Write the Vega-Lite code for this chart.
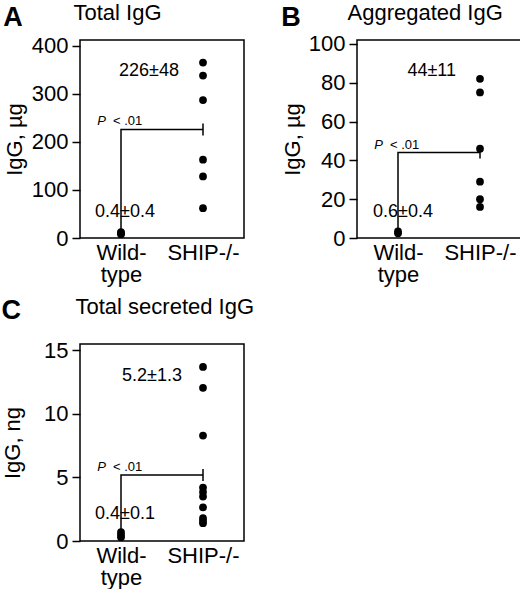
{
  "$schema": "https://vega.github.io/schema/vega-lite/v6.json",
  "padding": {"left": 0, "top": 0, "right": 0, "bottom": 0},
  "background": "white",
  "config": {
    "font": "Liberation Sans",
    "view": {"stroke": "black", "strokeWidth": 1.5},
    "axis": {
      "grid": false,
      "domain": false,
      "labelFont": "Liberation Sans",
      "titleFont": "Liberation Sans",
      "labelFontSize": 22,
      "titleFontSize": 22,
      "titleFontWeight": "normal",
      "labelColor": "black",
      "titleColor": "black",
      "tickColor": "black",
      "tickWidth": 1.5,
      "labelOverlap": false
    },
    "title": {"font": "Liberation Sans", "color": "black"},
    "text": {"font": "Liberation Sans", "color": "black"}
  },
  "datasets": {
    "dots": [
      {"panel": "A", "group": "Wild-type", "igg": 8},
      {"panel": "A", "group": "Wild-type", "igg": 10},
      {"panel": "A", "group": "Wild-type", "igg": 12},
      {"panel": "A", "group": "SHIP-/-", "igg": 365},
      {"panel": "A", "group": "SHIP-/-", "igg": 338},
      {"panel": "A", "group": "SHIP-/-", "igg": 287},
      {"panel": "A", "group": "SHIP-/-", "igg": 163},
      {"panel": "A", "group": "SHIP-/-", "igg": 128},
      {"panel": "A", "group": "SHIP-/-", "igg": 62},
      {"panel": "B", "group": "Wild-type", "igg": 2.4},
      {"panel": "B", "group": "Wild-type", "igg": 3.4},
      {"panel": "B", "group": "SHIP-/-", "igg": 82},
      {"panel": "B", "group": "SHIP-/-", "igg": 75},
      {"panel": "B", "group": "SHIP-/-", "igg": 46},
      {"panel": "B", "group": "SHIP-/-", "igg": 29},
      {"panel": "B", "group": "SHIP-/-", "igg": 20},
      {"panel": "B", "group": "SHIP-/-", "igg": 16},
      {"panel": "C", "group": "Wild-type", "igg": 0.3},
      {"panel": "C", "group": "Wild-type", "igg": 0.5},
      {"panel": "C", "group": "Wild-type", "igg": 0.7},
      {"panel": "C", "group": "SHIP-/-", "igg": 13.7},
      {"panel": "C", "group": "SHIP-/-", "igg": 12.05},
      {"panel": "C", "group": "SHIP-/-", "igg": 8.3},
      {"panel": "C", "group": "SHIP-/-", "igg": 4.2},
      {"panel": "C", "group": "SHIP-/-", "igg": 3.85},
      {"panel": "C", "group": "SHIP-/-", "igg": 3.5},
      {"panel": "C", "group": "SHIP-/-", "igg": 2.65},
      {"panel": "C", "group": "SHIP-/-", "igg": 1.8},
      {"panel": "C", "group": "SHIP-/-", "igg": 1.6},
      {"panel": "C", "group": "SHIP-/-", "igg": 1.4}
    ],
    "summary": [
      {"panel": "A", "group": "Wild-type", "mean": 0.4, "label": "0.4±0.4", "labelAt": 55},
      {"panel": "A", "group": "SHIP-/-", "mean": 226, "lo": 213.5, "hi": 238.5, "label": "226±48", "labelAt": 347},
      {"panel": "B", "group": "Wild-type", "mean": 0.6, "label": "0.6±0.4", "labelAt": 13.5},
      {"panel": "B", "group": "SHIP-/-", "mean": 44, "lo": 40.9, "hi": 47.1, "label": "44±11", "labelAt": 86},
      {"panel": "C", "group": "Wild-type", "mean": 0.4, "label": "0.4±0.1", "labelAt": 2.1},
      {"panel": "C", "group": "SHIP-/-", "mean": 5.2, "lo": 4.73, "hi": 5.67, "label": "5.2±1.3", "labelAt": 13.0}
    ],
    "bracket": [
      {"panel": "A", "step": 1, "group": "Wild-type", "igg": 0.4},
      {"panel": "A", "step": 2, "group": "Wild-type", "igg": 226},
      {"panel": "A", "step": 3, "group": "SHIP-/-", "igg": 226},
      {"panel": "B", "step": 1, "group": "Wild-type", "igg": 0.6},
      {"panel": "B", "step": 2, "group": "Wild-type", "igg": 44},
      {"panel": "B", "step": 3, "group": "SHIP-/-", "igg": 44},
      {"panel": "C", "step": 1, "group": "Wild-type", "igg": 0.4},
      {"panel": "C", "step": 2, "group": "Wild-type", "igg": 5.2},
      {"panel": "C", "step": 3, "group": "SHIP-/-", "igg": 5.2}
    ]
  },
  "vconcat": [
    {
      "hconcat": [
        {
          "width": 164,
          "height": 198,
          "title": {"text": "A", "anchor": "start", "frame": "bounds", "fontSize": 27, "fontWeight": "bold", "baseline": "alphabetic", "offset": -52},
          "resolve": {"axis": {"x": "independent"}},
          "layer": [
            {
              "data": {"name": "dots"},
              "transform": [{"filter": "datum.panel === 'A'"}],
              "mark": {"type": "circle", "size": 60, "color": "black", "opacity": 1},
              "encoding": {
                "x": {
                  "field": "group", "type": "nominal",
                  "scale": {"type": "point", "padding": 0.5, "domain": ["Wild-type", "SHIP-/-"]},
                  "axis": {"orient": "bottom", "title": null, "ticks": false, "labelAngle": 0, "labelPadding": 4, "labelLineHeight": 22, "labelExpr": "datum.value === 'Wild-type' ? ['Wild-', 'type'] : datum.value"}
                },
                "y": {
                  "field": "igg", "type": "quantitative",
                  "scale": {"domain": [0, 412], "nice": false},
                  "axis": {"title": "IgG, µg", "values": [0, 100, 200, 300, 400], "tickCount": 10, "tickSize": 8, "labelPadding": 4, "titlePadding": 5}
                }
              }
            },
            {
              "data": {"name": "bracket"},
              "transform": [{"filter": "datum.panel === 'A'"}],
              "mark": {"type": "line", "color": "black", "strokeWidth": 1.5},
              "encoding": {
                "x": {"field": "group", "type": "nominal", "scale": {"type": "point", "padding": 0.5, "domain": ["Wild-type", "SHIP-/-"]}, "axis": null},
                "y": {"field": "igg", "type": "quantitative", "scale": {"domain": [0, 412], "nice": false}},
                "order": {"field": "step"}
              }
            },
            {
              "data": {"name": "summary"},
              "transform": [{"filter": "datum.panel === 'A' && isValid(datum.lo)"}],
              "mark": {"type": "rule", "color": "black", "strokeWidth": 1.5},
              "encoding": {
                "x": {"field": "group", "type": "nominal", "scale": {"type": "point", "padding": 0.5, "domain": ["Wild-type", "SHIP-/-"]}, "axis": null},
                "y": {"field": "lo", "type": "quantitative", "scale": {"domain": [0, 412], "nice": false}},
                "y2": {"field": "hi"}
              }
            },
            {
              "data": {"name": "summary"},
              "transform": [{"filter": "datum.panel === 'A' && datum.group === 'Wild-type'"}],
              "mark": {"type": "text", "fontSize": 18, "align": "center", "baseline": "middle", "dx": 4},
              "encoding": {
                "x": {"field": "group", "type": "nominal", "scale": {"type": "point", "padding": 0.5, "domain": ["Wild-type", "SHIP-/-"]}, "axis": null},
                "y": {"field": "labelAt", "type": "quantitative", "scale": {"domain": [0, 412], "nice": false}},
                "text": {"field": "label"}
              }
            },
            {
              "data": {"name": "summary"},
              "transform": [{"filter": "datum.panel === 'A' && datum.group === 'SHIP-/-'"}],
              "mark": {"type": "text", "fontSize": 18, "align": "right", "baseline": "middle", "dx": -24},
              "encoding": {
                "x": {"field": "group", "type": "nominal", "scale": {"type": "point", "padding": 0.5, "domain": ["Wild-type", "SHIP-/-"]}, "axis": null},
                "y": {"field": "labelAt", "type": "quantitative", "scale": {"domain": [0, 412], "nice": false}},
                "text": {"field": "label"}
              }
            },
            {
              "data": {"name": "bracket"},
              "transform": [{"filter": "datum.panel === 'A' && datum.step === 2"}],
              "mark": {"type": "text", "text": "P", "fontSize": 13, "fontStyle": "italic", "align": "right", "baseline": "alphabetic", "dx": -15, "dy": -4},
              "encoding": {
                "x": {
                  "field": "group", "type": "nominal",
                  "scale": {"type": "point", "padding": 0.5, "domain": ["Wild-type", "SHIP-/-"]},
                  "axis": {"orient": "top", "title": "Total IgG", "labels": false, "ticks": false, "domain": false, "titleAnchor": "start", "titleAlign": "left", "titleX": -7, "titleBaseline": "alphabetic", "titlePadding": 21}
                },
                "y": {"field": "igg", "type": "quantitative", "scale": {"domain": [0, 412], "nice": false}}
              }
            },
            {
              "data": {"name": "bracket"},
              "transform": [{"filter": "datum.panel === 'A' && datum.step === 2"}],
              "mark": {"type": "text", "text": "< .01", "fontSize": 13, "align": "left", "baseline": "alphabetic", "dx": -8, "dy": -4},
              "encoding": {
                "x": {"field": "group", "type": "nominal", "scale": {"type": "point", "padding": 0.5, "domain": ["Wild-type", "SHIP-/-"]}, "axis": null},
                "y": {"field": "igg", "type": "quantitative", "scale": {"domain": [0, 412], "nice": false}}
              }
            }
          ]
        },
        {
          "width": 164,
          "height": 198,
          "title": {"text": "B", "anchor": "start", "frame": "bounds", "fontSize": 27, "fontWeight": "bold", "baseline": "alphabetic", "offset": -52},
          "resolve": {"axis": {"x": "independent"}},
          "layer": [
            {
              "data": {"name": "dots"},
              "transform": [{"filter": "datum.panel === 'B'"}],
              "mark": {"type": "circle", "size": 60, "color": "black", "opacity": 1},
              "encoding": {
                "x": {
                  "field": "group", "type": "nominal",
                  "scale": {"type": "point", "padding": 0.5, "domain": ["Wild-type", "SHIP-/-"]},
                  "axis": {"orient": "bottom", "title": null, "ticks": false, "labelAngle": 0, "labelPadding": 4, "labelLineHeight": 22, "labelExpr": "datum.value === 'Wild-type' ? ['Wild-', 'type'] : datum.value"}
                },
                "y": {
                  "field": "igg", "type": "quantitative",
                  "scale": {"domain": [0, 102], "nice": false},
                  "axis": {"title": "IgG, µg", "values": [0, 20, 40, 60, 80, 100], "tickCount": 10, "tickSize": 8, "labelPadding": 4, "titlePadding": 4}
                }
              }
            },
            {
              "data": {"name": "bracket"},
              "transform": [{"filter": "datum.panel === 'B'"}],
              "mark": {"type": "line", "color": "black", "strokeWidth": 1.5},
              "encoding": {
                "x": {"field": "group", "type": "nominal", "scale": {"type": "point", "padding": 0.5, "domain": ["Wild-type", "SHIP-/-"]}, "axis": null},
                "y": {"field": "igg", "type": "quantitative", "scale": {"domain": [0, 102], "nice": false}},
                "order": {"field": "step"}
              }
            },
            {
              "data": {"name": "summary"},
              "transform": [{"filter": "datum.panel === 'B' && isValid(datum.lo)"}],
              "mark": {"type": "rule", "color": "black", "strokeWidth": 1.5},
              "encoding": {
                "x": {"field": "group", "type": "nominal", "scale": {"type": "point", "padding": 0.5, "domain": ["Wild-type", "SHIP-/-"]}, "axis": null},
                "y": {"field": "lo", "type": "quantitative", "scale": {"domain": [0, 102], "nice": false}},
                "y2": {"field": "hi"}
              }
            },
            {
              "data": {"name": "summary"},
              "transform": [{"filter": "datum.panel === 'B' && datum.group === 'Wild-type'"}],
              "mark": {"type": "text", "fontSize": 18, "align": "center", "baseline": "middle", "dx": 5},
              "encoding": {
                "x": {"field": "group", "type": "nominal", "scale": {"type": "point", "padding": 0.5, "domain": ["Wild-type", "SHIP-/-"]}, "axis": null},
                "y": {"field": "labelAt", "type": "quantitative", "scale": {"domain": [0, 102], "nice": false}},
                "text": {"field": "label"}
              }
            },
            {
              "data": {"name": "summary"},
              "transform": [{"filter": "datum.panel === 'B' && datum.group === 'SHIP-/-'"}],
              "mark": {"type": "text", "fontSize": 18, "align": "right", "baseline": "middle", "dx": -24},
              "encoding": {
                "x": {"field": "group", "type": "nominal", "scale": {"type": "point", "padding": 0.5, "domain": ["Wild-type", "SHIP-/-"]}, "axis": null},
                "y": {"field": "labelAt", "type": "quantitative", "scale": {"domain": [0, 102], "nice": false}},
                "text": {"field": "label"}
              }
            },
            {
              "data": {"name": "bracket"},
              "transform": [{"filter": "datum.panel === 'B' && datum.step === 2"}],
              "mark": {"type": "text", "text": "P", "fontSize": 13, "fontStyle": "italic", "align": "right", "baseline": "alphabetic", "dx": -15, "dy": -4},
              "encoding": {
                "x": {
                  "field": "group", "type": "nominal",
                  "scale": {"type": "point", "padding": 0.5, "domain": ["Wild-type", "SHIP-/-"]},
                  "axis": {"orient": "top", "title": "Aggregated IgG", "labels": false, "ticks": false, "domain": false, "titleAnchor": "start", "titleAlign": "left", "titleX": -10, "titleBaseline": "alphabetic", "titlePadding": 21}
                },
                "y": {"field": "igg", "type": "quantitative", "scale": {"domain": [0, 102], "nice": false}}
              }
            },
            {
              "data": {"name": "bracket"},
              "transform": [{"filter": "datum.panel === 'B' && datum.step === 2"}],
              "mark": {"type": "text", "text": "< .01", "fontSize": 13, "align": "left", "baseline": "alphabetic", "dx": -8, "dy": -4},
              "encoding": {
                "x": {"field": "group", "type": "nominal", "scale": {"type": "point", "padding": 0.5, "domain": ["Wild-type", "SHIP-/-"]}, "axis": null},
                "y": {"field": "igg", "type": "quantitative", "scale": {"domain": [0, 102], "nice": false}}
              }
            }
          ]
        }
      ],
      "spacing": 35
    },
    {
      "width": 164,
      "height": 197,
      "title": {"text": "C", "anchor": "start", "frame": "bounds", "fontSize": 27, "fontWeight": "bold", "baseline": "alphabetic", "offset": -51},
      "resolve": {"axis": {"x": "independent"}},
      "layer": [
        {
          "data": {"name": "dots"},
          "transform": [{"filter": "datum.panel === 'C'"}],
          "mark": {"type": "circle", "size": 60, "color": "black", "opacity": 1},
          "encoding": {
            "x": {
              "field": "group", "type": "nominal",
              "scale": {"type": "point", "padding": 0.5, "domain": ["Wild-type", "SHIP-/-"]},
              "axis": {"orient": "bottom", "title": null, "ticks": false, "labelAngle": 0, "labelPadding": 4, "labelLineHeight": 22, "labelExpr": "datum.value === 'Wild-type' ? ['Wild-', 'type'] : datum.value"}
            },
            "y": {
              "field": "igg", "type": "quantitative",
              "scale": {"domain": [0, 15.5], "nice": false},
              "axis": {"title": "IgG, ng", "values": [0, 5, 10, 15], "tickCount": 10, "tickSize": 8, "labelPadding": 4, "titlePadding": 19}
            }
          }
        },
        {
          "data": {"name": "bracket"},
          "transform": [{"filter": "datum.panel === 'C'"}],
          "mark": {"type": "line", "color": "black", "strokeWidth": 1.5},
          "encoding": {
            "x": {"field": "group", "type": "nominal", "scale": {"type": "point", "padding": 0.5, "domain": ["Wild-type", "SHIP-/-"]}, "axis": null},
            "y": {"field": "igg", "type": "quantitative", "scale": {"domain": [0, 15.5], "nice": false}},
            "order": {"field": "step"}
          }
        },
        {
          "data": {"name": "summary"},
          "transform": [{"filter": "datum.panel === 'C' && isValid(datum.lo)"}],
          "mark": {"type": "rule", "color": "black", "strokeWidth": 1.5},
          "encoding": {
            "x": {"field": "group", "type": "nominal", "scale": {"type": "point", "padding": 0.5, "domain": ["Wild-type", "SHIP-/-"]}, "axis": null},
            "y": {"field": "lo", "type": "quantitative", "scale": {"domain": [0, 15.5], "nice": false}},
            "y2": {"field": "hi"}
          }
        },
        {
          "data": {"name": "summary"},
          "transform": [{"filter": "datum.panel === 'C' && datum.group === 'Wild-type'"}],
          "mark": {"type": "text", "fontSize": 18, "align": "center", "baseline": "middle", "dx": 4},
          "encoding": {
            "x": {"field": "group", "type": "nominal", "scale": {"type": "point", "padding": 0.5, "domain": ["Wild-type", "SHIP-/-"]}, "axis": null},
            "y": {"field": "labelAt", "type": "quantitative", "scale": {"domain": [0, 15.5], "nice": false}},
            "text": {"field": "label"}
          }
        },
        {
          "data": {"name": "summary"},
          "transform": [{"filter": "datum.panel === 'C' && datum.group === 'SHIP-/-'"}],
          "mark": {"type": "text", "fontSize": 18, "align": "right", "baseline": "middle", "dx": -21},
          "encoding": {
            "x": {"field": "group", "type": "nominal", "scale": {"type": "point", "padding": 0.5, "domain": ["Wild-type", "SHIP-/-"]}, "axis": null},
            "y": {"field": "labelAt", "type": "quantitative", "scale": {"domain": [0, 15.5], "nice": false}},
            "text": {"field": "label"}
          }
        },
        {
          "data": {"name": "bracket"},
          "transform": [{"filter": "datum.panel === 'C' && datum.step === 2"}],
          "mark": {"type": "text", "text": "P", "fontSize": 13, "fontStyle": "italic", "align": "right", "baseline": "alphabetic", "dx": -15, "dy": -4},
          "encoding": {
            "x": {
              "field": "group", "type": "nominal",
              "scale": {"type": "point", "padding": 0.5, "domain": ["Wild-type", "SHIP-/-"]},
              "axis": {"orient": "top", "title": "Total secreted IgG", "labels": false, "ticks": false, "domain": false, "titleAnchor": "start", "titleAlign": "left", "titleX": -5, "titleBaseline": "alphabetic", "titlePadding": 31}
            },
            "y": {"field": "igg", "type": "quantitative", "scale": {"domain": [0, 15.5], "nice": false}}
          }
        },
        {
          "data": {"name": "bracket"},
          "transform": [{"filter": "datum.panel === 'C' && datum.step === 2"}],
          "mark": {"type": "text", "text": "< .01", "fontSize": 13, "align": "left", "baseline": "alphabetic", "dx": -8, "dy": -4},
          "encoding": {
            "x": {"field": "group", "type": "nominal", "scale": {"type": "point", "padding": 0.5, "domain": ["Wild-type", "SHIP-/-"]}, "axis": null},
            "y": {"field": "igg", "type": "quantitative", "scale": {"domain": [0, 15.5], "nice": false}}
          }
        }
      ]
    }
  ],
  "spacing": 8
}
